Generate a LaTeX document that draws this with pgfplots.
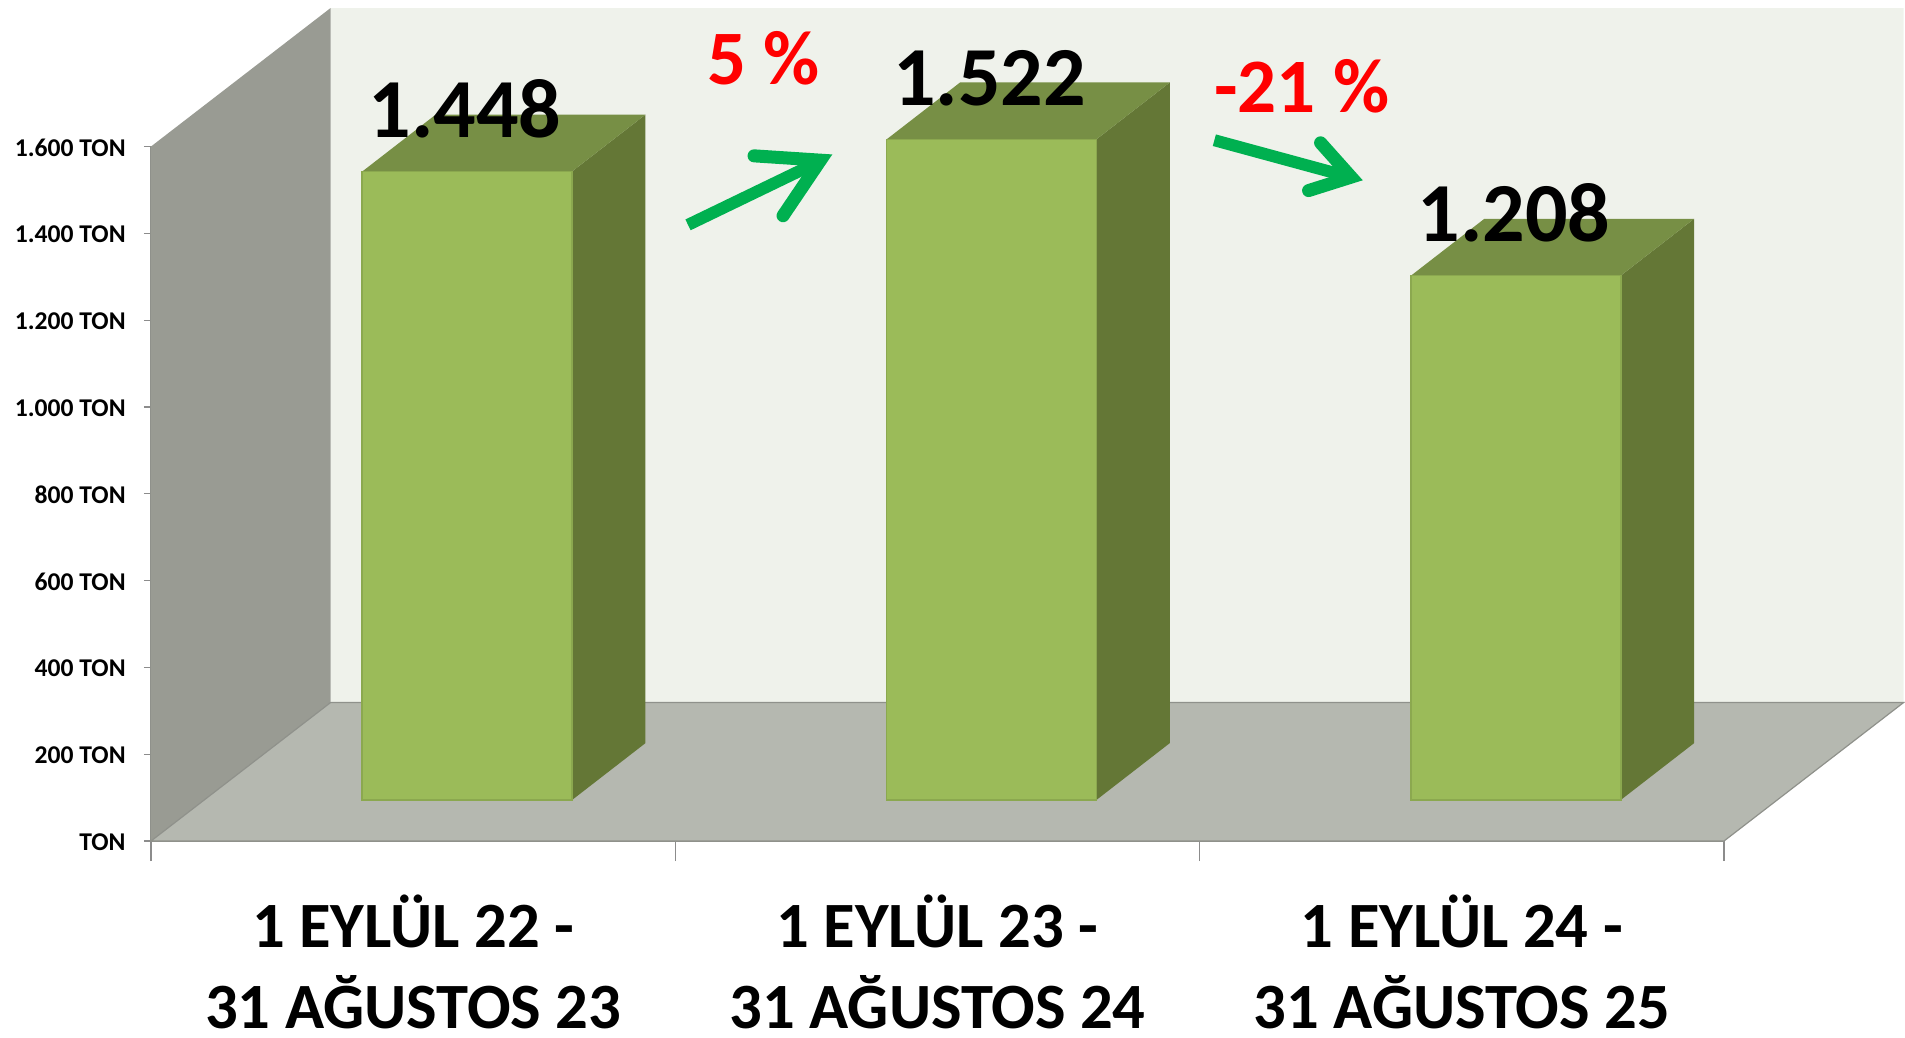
\documentclass[border=0pt]{standalone}
\usepackage{fontspec}
\setmainfont{Carlito}
\usepackage{pgfplots}
\usepackage{pgfplotstable}
\pgfplotsset{compat=1.18}

\definecolor{backwall}{HTML}{EFF2EB}
\definecolor{sidewall}{HTML}{999B93}
\definecolor{floorcol}{HTML}{B5B8B0}
\definecolor{edgecol}{HTML}{8F918B}
\definecolor{barfront}{HTML}{9BBB59}
\definecolor{baredge}{HTML}{8BA84F}
\definecolor{bartop}{HTML}{778F45}
\definecolor{barside}{HTML}{647736}
\definecolor{arrowgreen}{HTML}{00B050}

\pgfplotstableread{
x y label
0.5 1448 1.448
1.5 1522 1.522
2.5 1208 1.208
}\bardata

\begin{document}
\begin{tikzpicture}
\path[use as bounding box] (0,0) rectangle (952.5pt,519pt);

% walls, floor and the axis ticks
\begin{axis}[
  at={(75.5pt,98.5pt)}, anchor=origin,
  scale only axis, width=786.5pt, height=347.25pt,
  xmin=0, xmax=3, ymin=0, ymax=1600,
  clip=false,
  axis x line*=bottom, axis y line*=left,
  axis line style={draw=edgecol, line width=0.8pt, -},
  tick align=outside,
  major tick length=3.5pt,
  tick style={draw=gray!90, line width=0.6pt},
  ytick={0,200,...,1600},
  yticklabels={TON,200 TON,400 TON,600 TON,800 TON,1.000 TON,1.200 TON,1.400 TON,1.600 TON},
  y tick label style={anchor=east, inner sep=0pt, xshift=-9pt, yshift=-0.5pt,
    font=\fontsize{12.8}{13}\selectfont\bfseries},
  xtick={0,1,2,3},
  xticklabels={},
  x tick style={/pgfplots/major tick length=10pt},
  extra x ticks={0.5,1.5,2.5},
  extra x tick labels={{1 EYLÜL 22 -\\31 AĞUSTOS 23},{1 EYLÜL 23 -\\31 AĞUSTOS 24},{1 EYLÜL 24 -\\31 AĞUSTOS 25}},
  extra x tick style={x tick style={draw=none},
    x tick label style={align=center, anchor=north, inner sep=0pt, yshift=-23.5pt, text depth=0pt,
      font=\fontsize{32.3}{40.5}\selectfont\bfseries}},
]
\addplot[fill=backwall, draw=none] coordinates {(0.3425,319) (3.3425,319) (3.3425,1919) (0.3425,1919)} \closedcycle;
\addplot[fill=sidewall, draw=none] coordinates {(0,0) (0.3425,319) (0.3425,1919) (0,1600)} --cycle;
\addplot[fill=floorcol, draw=edgecol, line width=0.6pt] coordinates {(0,0) (3,0) (3.3425,319) (0.3425,319)} --cycle;
\end{axis}

% bars, standing a little behind the front edge of the floor
\begin{axis}[
  at={(102.5pt,119pt)}, anchor=origin,
  scale only axis, width=786.5pt, height=347.25pt,
  xmin=0, xmax=3, ymin=0, ymax=1600,
  clip=false, hide axis,
]
% side faces
\addplot[fill=barside, draw=none] coordinates {(0.7,0) (0.84,131) (0.84,1579) (0.7,1448)} --cycle;
\addplot[fill=barside, draw=none] coordinates {(1.7,0) (1.84,131) (1.84,1653) (1.7,1522)} --cycle;
\addplot[fill=barside, draw=none] coordinates {(2.7,0) (2.84,131) (2.84,1339) (2.7,1208)} --cycle;
% top faces
\addplot[fill=bartop, draw=none] coordinates {(0.3,1448) (0.7,1448) (0.84,1579) (0.44,1579)} --cycle;
\addplot[fill=bartop, draw=none] coordinates {(1.3,1522) (1.7,1522) (1.84,1653) (1.44,1653)} --cycle;
\addplot[fill=bartop, draw=none] coordinates {(2.3,1208) (2.7,1208) (2.84,1339) (2.44,1339)} --cycle;
% front faces
\addplot[ybar, bar width=105pt, fill=barfront, draw=baredge, line width=0.8pt,
  nodes near coords, point meta=explicit symbolic,
  nodes near coords align={anchor=base},
  every node near coord/.style={anchor=base, inner sep=0pt, xshift=-1pt, yshift=17pt, text=black,
    font=\fontsize{42}{42}\selectfont\bfseries},
] table[x=x, y=y, meta=label] {\bardata};

% arrows between the bars
\addplot[arrowgreen, line width=6pt, line cap=butt] coordinates {(0.9212,1325) (1.1577,1463)};
\addplot[arrowgreen, line width=6.5pt, line cap=round, line join=miter, miter limit=10] coordinates {(1.0471,1484) (1.1740,1474) (1.1024,1346)};
\addplot[arrowgreen, line width=6pt, line cap=butt] coordinates {(1.9250,1520) (2.1686,1440)};
\addplot[arrowgreen, line width=6.5pt, line cap=round, line join=miter, miter limit=10] coordinates {(2.1276,1514) (2.1860,1435) (2.1047,1404)};

\node[anchor=base, inner sep=0pt, text=red, font=\fontsize{38.5}{38.5}\selectfont\bfseries] at (axis cs:1.065,1648) {5 \%};
\node[anchor=base, inner sep=0pt, text=red, font=\fontsize{38.5}{38.5}\selectfont\bfseries] at (axis cs:2.092,1583) {-21 \%};
\end{axis}
\end{tikzpicture}
\end{document}
